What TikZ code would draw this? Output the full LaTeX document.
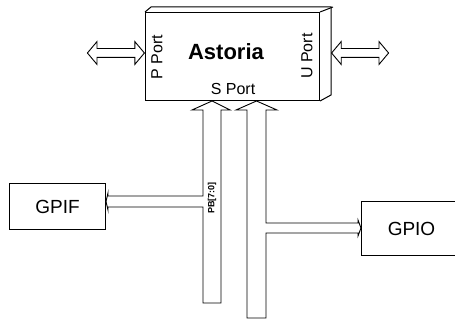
\documentclass[tikz,border=0pt]{standalone}
\usepackage{fontspec}
\setmainfont{Liberation Sans}
\usetikzlibrary{shapes.arrows,positioning,calc}
\tikzset{
  unitbox/.style={draw, line width=1pt, inner sep=0pt},
  portarrow/.style={double arrow, draw, line width=0.9pt, inner sep=4pt,
    minimum height=57pt, double arrow head extend=7pt, double arrow tip angle=100},
  bus/.style={draw, line width=0.9pt, line join=miter},
  lbl/.style={font=\fontsize{16}{16}\selectfont, inner sep=0pt},
}
\begin{document}
\begin{tikzpicture}[x=1pt,y=-1pt]
  \useasboundingbox (0,0) rectangle (455,320);

  % Astoria block, with its 3D edge
  \node[unitbox, minimum width=174pt, minimum height=88pt, anchor=north west] (ast) at (145,12) {};
  \draw[line width=1pt] (ast.north west) -- ++(6,-5) -| (331,95) -- (ast.south east);
  \draw[line width=1pt] (ast.north east) -- ++(13,-5);

  \node[font=\fontsize{22}{22}\selectfont\bfseries] (name) at (226,52) {Astoria};
  \node[lbl, rotate=90] (plbl) at (157,57) {P Port};
  \node[lbl, rotate=90] (ulbl) at (307,56) {U Port};
  \node[lbl] (slbl) at (233,89) {S Port};

  % port arrows
  \node[portarrow, anchor=east] (pport) at (ast.west |- 0,53) {};
  \node[portarrow, anchor=west] (uport) at (331,53) {};

  % devices
  \node[unitbox, minimum width=96pt, minimum height=46pt, anchor=north west,
        font=\fontsize{19}{19}\selectfont] (gpif) at (9,183) {GPIF};
  \node[unitbox, minimum width=100pt, minimum height=54pt, anchor=north west,
        font=\fontsize{19}{19}\selectfont] (gpio) at (361,201) {GPIO};

  % S port buses
  \draw[bus] (ast.south -| 212,0) -- (230,110) -- (221,110) -- (221,303) -- (203,303)
    -- (203,207) -- (108,207) -- (108,210) -- (gpif.east |- 0,201.5) -- (108,193)
    -- (108,196) -- (203,196) -- (203,110) -- (192,110) -- cycle;
  \draw[bus] (ast.south -| 256.5,0) -- (277,110) -- (266,110) -- (266,223) -- (358,223)
    -- (358,220) -- (gpio.west |- 0,228) -- (358,236) -- (358,233) -- (266,233)
    -- (266,318) -- (247,318) -- (247,110) -- (236,110) -- cycle;

  \node[font=\fontsize{9}{9}\selectfont\bfseries, rotate=90, inner sep=0pt] (pblbl) at (212,198) {PB[7:0]};
\end{tikzpicture}
\end{document}
